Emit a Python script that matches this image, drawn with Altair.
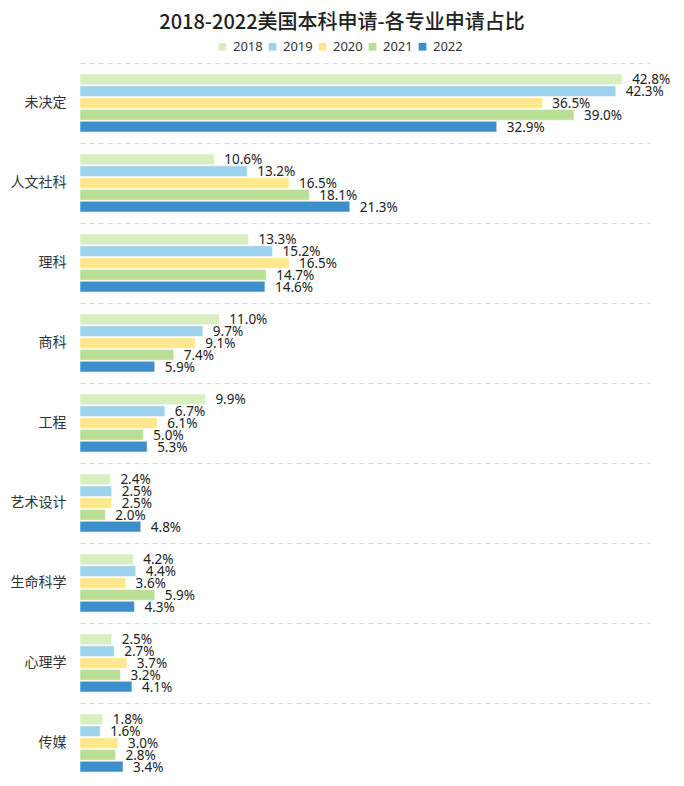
import altair as alt
import pandas as pd

categories = ["未决定", "人文社科", "理科", "商科", "工程", "艺术设计", "生命科学", "心理学", "传媒"]
years = ["2018", "2019", "2020", "2021", "2022"]
v2018 = [42.8, 10.6, 13.3, 11.0, 9.9, 2.4, 4.2, 2.5, 1.8]
v2019 = [42.3, 13.2, 15.2, 9.7, 6.7, 2.5, 4.4, 2.7, 1.6]
v2020 = [36.5, 16.5, 16.5, 9.1, 6.1, 2.5, 3.6, 3.7, 3.0]
v2021 = [39.0, 18.1, 14.7, 7.4, 5.0, 2.0, 5.9, 3.2, 2.8]
v2022 = [32.9, 21.3, 14.6, 5.9, 5.3, 4.8, 4.3, 4.1, 3.4]
colors = ["#d9efc0", "#9dd3ec", "#ffe88a", "#b9df94", "#3e8fc9"]

series = [v2018, v2019, v2020, v2021, v2022]
rows = []
for y, vals in zip(years, series):
    for c, v in zip(categories, vals):
        rows.append({"category": c, "year": y, "value": v, "label": f"{v:.1f}%"})
df = pd.DataFrame(rows)

FONT = "Noto Sans CJK SC"

y_enc = alt.Y(
    "category:N",
    sort=categories,
    scale=alt.Scale(paddingInner=0, paddingOuter=0),
    axis=alt.Axis(
        title=None, ticks=False, domain=False, grid=True, bandPosition=0,
        gridColor="#d6d6d6", gridDash=[5, 4], gridWidth=1,
        labelFontSize=14, labelColor="#333333", labelFont=FONT, labelPadding=14,
    ),
)
yoff = alt.YOffset("year:N", sort=years, scale=alt.Scale(paddingInner=0.1, paddingOuter=0.93))
x_enc = alt.X(
    "value:Q",
    scale=alt.Scale(domain=[0, 45], nice=False),
    axis=alt.Axis(title=None, labels=False, ticks=False, grid=False, domain=True,
                  domainColor="#d6d6d6", domainDash=[5, 4], domainWidth=1),
)

bars = alt.Chart(df).mark_bar(stroke="white", strokeWidth=0.5).encode(
    y=y_enc,
    yOffset=yoff,
    x=x_enc,
    color=alt.Color(
        "year:N", sort=years,
        scale=alt.Scale(domain=years, range=colors),
        legend=alt.Legend(
            title=None, orient="none", direction="horizontal",
            legendX=136, legendY=-23, symbolType="square", symbolSize=60,
            symbolStrokeWidth=0, labelFontSize=13, labelFont="Noto Sans", labelColor="#333333",
            columnPadding=3, labelOffset=4,
        ),
    ),
)

texts = alt.Chart(df).mark_text(
    align="left", baseline="middle", dx=10, dy=1, fontSize=13.5, font="Noto Sans", color="#222222"
).encode(
    y=alt.Y("category:N", sort=categories),
    yOffset=alt.YOffset("year:N", sort=years),
    x=alt.X("value:Q"),
    text="label:N",
)

chart = alt.layer(bars, texts).properties(
    width=570,
    height=720,
    autosize=alt.AutoSizeParams(type="none"),
    padding={"left": 72, "top": 55, "right": 26, "bottom": 0},
    title=alt.TitleParams(
        "2018-2022美国本科申请-各专业申请占比",
        fontSize=20, font=FONT, fontWeight=500, color="#222222",
        anchor="middle", dx=-23, offset=7,
    ),
).configure_view(stroke=None)

chart.save("out.html", embed_options={"renderer": "svg", "actions": False})
